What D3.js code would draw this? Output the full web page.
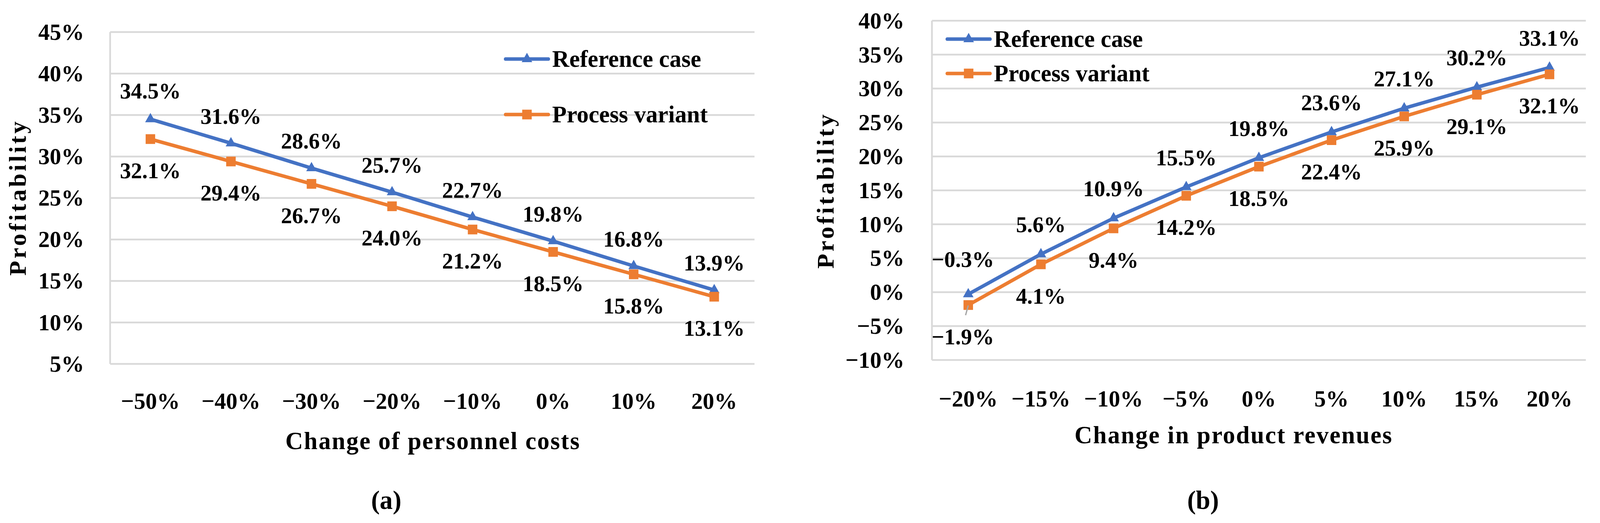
<!DOCTYPE html>
<html>
<head>
<meta charset="utf-8">
<script src="https://cdn.jsdelivr.net/npm/d3@7"></script>
<style>
	html, body { margin: 0; padding: 0; background: #fff; overflow: hidden; width: 100%; height: 100%; }
	#chart { width: 100vw; height: 100vh; }
	svg { display: block; width: 100%; height: 100%; }
	text { font-family: "Palatino Linotype", "Book Antiqua", Palatino, "Liberation Serif", serif; font-weight: bold; fill: #000; }
</style>
</head>
<body>
<div id="chart"></div>
<script>

// (a) personnel costs
var catsA = ["\u221250%", "\u221240%", "\u221230%", "\u221220%", "\u221210%", "0%", "10%", "20%"];
var refA = [34.5, 31.6, 28.6, 25.7, 22.7, 19.8, 16.8, 13.9];
var varA = [32.1, 29.4, 26.7, 24.0, 21.2, 18.5, 15.8, 13.1];
var ticksA = [5, 10, 15, 20, 25, 30, 35, 40, 45];

// (b) product revenues
var catsB = ["\u221220%", "\u221215%", "\u221210%", "\u22125%", "0%", "5%", "10%", "15%", "20%"];
var refB = [-0.3, 5.6, 10.9, 15.5, 19.8, 23.6, 27.1, 30.2, 33.1];
var varB = [-1.9, 4.1, 9.4, 14.2, 18.5, 22.4, 25.9, 29.1, 32.1];
var ticksB = [-10, -5, 0, 5, 10, 15, 20, 25, 30, 35, 40];

var seriesNames = ["Reference case", "Process variant"];
var colors = ["#4472C4", "#ED7D31"];

var W = 4184, H = 1338;

var svg = d3.select("#chart").append("svg")
	.attr("viewBox", `0 0 ${W} ${H}`)
	.attr("preserveAspectRatio", "none");

svg.append("rect").attr("width", W).attr("height", H).attr("fill", "#fff");

function fmtTick(v)	{ return (v < 0 ? "\u2212" + (-v) : v) + "%"; }
function fmtLabel(v)	{ return (v < 0 ? "\u2212" : "") + Math.abs(v).toFixed(1) + "%"; }

function drawchart(o)	{

	var g = svg.append("g");

	var x = d3.scaleBand(o.cats, [o.left, o.right]);
	var y = d3.scaleLinear(d3.extent(o.ticks), [o.bottom, o.top]);
	var cx = c => x(c) + x.bandwidth()/2;

	// gridlines
	g.selectAll(".grid")
	.data(o.ticks)
	.join("line")
		.attr("x1", o.left).attr("x2", o.right)
		.attr("y1", d => y(d)).attr("y2", d => y(d))
		.attr("stroke", "#D9D9D9")
		.attr("stroke-width", 4.5);

	g.append("line")
		.attr("x1", o.left).attr("x2", o.left)
		.attr("y1", o.top).attr("y2", o.bottom)
		.attr("stroke", "#D9D9D9")
		.attr("stroke-width", 4.5);

	var yaxis = g.append("g")
		.attr("transform", `translate(${o.left},0)`)
		.call(d3.axisLeft(y).tickValues(o.ticks).tickSize(0).tickPadding(o.left - o.ylabx).tickFormat(fmtTick));
	yaxis.select(".domain").remove();
	yaxis.selectAll("text").attr("font-size", 60).attr("font-family", null);

	var xaxis = g.append("g")
		.attr("transform", `translate(0,${o.bottom})`)
		.call(d3.axisBottom(x).tickSize(0).tickPadding(o.xpad));
	xaxis.select(".domain").remove();
	xaxis.selectAll("text").attr("font-size", 60).attr("font-family", null);

	// lines + markers + labels
	[o.ref, o.vari].forEach( (vals, i) => {

		var pts = vals.map( (v, j) => [cx(o.cats[j]), y(v)] );

		g.append("path")
			.attr("fill", "none")
			.attr("stroke", colors[i])
			.attr("stroke-width", 9)
			.attr("stroke-linejoin", "round")
			.attr("d", d3.line()(pts));

		g.selectAll(".mk" + i)
		.data(pts)
		.join("path")
			.attr("transform", d => `translate(${d[0]},${d[1]})`)
			.attr("fill", colors[i])
			.attr("d", d3.symbol(i === 0 ? d3.symbolTriangle : d3.symbolSquare, i === 0 ? 330 : 620));

		g.selectAll(".lb" + i)
		.data(vals)
		.join("text")
			.attr("x", (d, j) => cx(o.cats[j]) + (j === 0 ? o.firstdx : 0))
			.attr("y", (d, j) => y(d) + (i === 0 ? -(j === 0 ? o.firstabove : o.above) : o.below))
			.attr("dy", "0.35em")
			.attr("text-anchor", "middle")
			.attr("font-size", 58)
			.text(d => fmtLabel(d));

	});

	// leader line for the first variant label
	if(o.leader)	{
		var lx = cx(o.cats[0]), ly = y(o.vari[0]);
		g.append("line")
			.attr("x1", lx).attr("y1", ly + 1)
			.attr("x2", lx - 7).attr("y2", ly + 26)
			.attr("stroke", "#A6A6A6")
			.attr("stroke-width", 3.5);
	}

	// legend
	seriesNames.forEach( (name, i) => {
		var ly = o.legy[i];
		g.append("line")
			.attr("x1", o.legx).attr("x2", o.legx + 112)
			.attr("y1", ly).attr("y2", ly)
			.attr("stroke", colors[i])
			.attr("stroke-width", 9)
			.attr("stroke-linecap", "round");
		g.append("path")
			.attr("transform", `translate(${o.legx + 56},${ly})`)
			.attr("fill", colors[i])
			.attr("d", d3.symbol(i === 0 ? d3.symbolTriangle : d3.symbolSquare, i === 0 ? 330 : 620));
		g.append("text")
			.attr("x", o.legx + 122)
			.attr("y", ly)
			.attr("dy", "0.33em")
			.attr("font-size", 62)
			.text(name);
	});

	// titles
	g.append("text")
		.attr("transform", `translate(${o.ytx},${o.yty}) rotate(-90)`)
		.attr("text-anchor", "middle")
		.attr("dy", "0.33em")
		.attr("font-size", 62)
		.attr("letter-spacing", 6)
		.text("Profitability");

	g.append("text")
		.attr("x", o.xtx)
		.attr("y", o.xty)
		.attr("dy", "0.33em")
		.attr("text-anchor", "middle")
		.attr("font-size", 64)
		.attr("letter-spacing", 2.5)
		.text(o.xtitle);

	var cap = g.append("text")
		.attr("x", o.capx)
		.attr("y", 1280)
		.attr("dy", "0.33em")
		.attr("text-anchor", "middle")
		.attr("font-size", 68)
		.attr("font-weight", "normal");
	cap.append("tspan").text("(");
	cap.append("tspan").attr("font-weight", "bold").text(o.cap);
	cap.append("tspan").text(")");

}

drawchart({
	cats: catsA, ref: refA, vari: varA, ticks: ticksA,
	left: 288, right: 1973, top: 82, bottom: 931,
	ylabx: 220, xpad: 72, above: 70, firstabove: 73, below: 80, firstdx: 0,
	legx: 1322, legy: [151, 293],
	ytx: 47, yty: 505, xtx: 1132, xty: 1128, xtitle: "Change of personnel costs",
	capx: 1010, cap: "a", leader: false
});

drawchart({
	cats: catsB, ref: refB, vari: varB, ticks: ticksB,
	left: 2437, right: 4147, top: 53, bottom: 921,
	ylabx: 2365, xpad: 76, above: 76, firstabove: 90, below: 80, firstdx: -14,
	legx: 2477, legy: [100, 188],
	ytx: 2159, yty: 487, xtx: 3226, xty: 1113, xtitle: "Change in product revenues",
	capx: 3146, cap: "b", leader: true
});

</script>
</body>
</html>
